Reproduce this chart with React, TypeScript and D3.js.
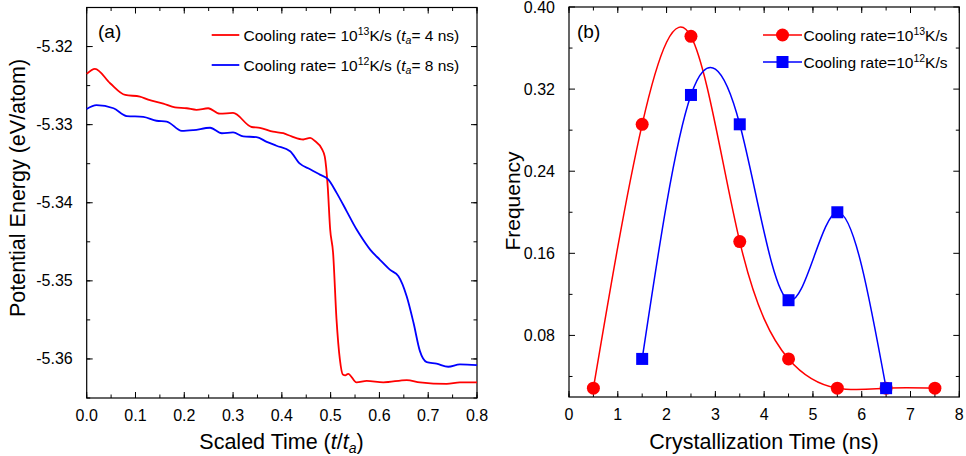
import React from "react";
import * as d3 from "d3";

// Panel (a): scaled time vs potential energy
const redT = [0, 0.017, 0.048, 0.079, 0.109, 0.126, 0.157, 0.181, 0.205, 0.225, 0.249, 0.273, 0.3, 0.338, 0.355, 0.382, 0.403, 0.42, 0.444, 0.458, 0.468, 0.482, 0.488, 0.494, 0.499, 0.505, 0.512, 0.519, 0.525, 0.53, 0.536, 0.553, 0.574, 0.608, 0.656, 0.683, 0.738, 0.765, 0.8];
const redE = [-5.3235, -5.32285, -5.3247, -5.3262, -5.3264, -5.3268, -5.3273, -5.3278, -5.3279, -5.3281, -5.3279, -5.3286, -5.3285, -5.3303, -5.3304, -5.3309, -5.3311, -5.3315, -5.3319, -5.3317, -5.3321, -5.3331, -5.3341, -5.3379, -5.3434, -5.3464, -5.3549, -5.3601, -5.362, -5.3621, -5.3619, -5.363, -5.3628, -5.363, -5.3627, -5.363, -5.3632, -5.363, -5.363];
const blueT = [0, 0.02, 0.055, 0.082, 0.116, 0.143, 0.164, 0.195, 0.219, 0.253, 0.277, 0.3, 0.321, 0.348, 0.369, 0.389, 0.417, 0.437, 0.458, 0.478, 0.495, 0.512, 0.533, 0.553, 0.56, 0.581, 0.601, 0.622, 0.639, 0.656, 0.67, 0.683, 0.697, 0.717, 0.741, 0.765, 0.8];
const blueE = [-5.328, -5.3275, -5.3279, -5.3289, -5.329, -5.3295, -5.3296, -5.3308, -5.3307, -5.3304, -5.3311, -5.331, -5.3315, -5.3316, -5.3322, -5.3327, -5.3334, -5.335, -5.3357, -5.3364, -5.337, -5.3387, -5.3411, -5.3434, -5.3441, -5.346, -5.3473, -5.3486, -5.3494, -5.352, -5.3554, -5.359, -5.3604, -5.3606, -5.361, -5.3607, -5.3608];
const aXTicks = [0, 0.1, 0.2, 0.3, 0.4, 0.5, 0.6, 0.7, 0.8];
const aYTicks = [-5.32, -5.33, -5.34, -5.35, -5.36];

// Panel (b): crystallization time histogram
const redTimes = [0.5, 1.5, 2.5, 3.5, 4.5, 5.5, 6.5, 7.5];
const redFreq = [0.0286, 0.2857, 0.3714, 0.1714, 0.0571, 0.0286, 0.0286, 0.0286];
const blueTimes = [1.5, 2.5, 3.5, 4.5, 5.5, 6.5];
const blueFreq = [0.0571, 0.3143, 0.2857, 0.1143, 0.2, 0.0286];
const bXTicks = [0, 1, 2, 3, 4, 5, 6, 7, 8];
const bYTicks = [0.08, 0.16, 0.24, 0.32, 0.4];

const RED = "#ff0000";
const BLUE = "#0000ff";
const FONT = "'Liberation Sans', Arial, Helvetica, sans-serif";

function Frame({ x, y, minorX, minorY, xFmt, yFmt, majX, majY }: any) {
  const [x0, x1] = x.range();
  const [y0, y1] = y.range(); // y0 bottom, y1 top
  const els: any[] = [];
  const L = 6, l = 3.5;
  minorX.forEach((v: number, i: number) => {
    const px = x(v);
    els.push(<line key={"mx" + i} x1={px} x2={px} y1={y0} y2={y0 - l} stroke="#000" />);
    els.push(<line key={"mxt" + i} x1={px} x2={px} y1={y1} y2={y1 + l} stroke="#000" />);
  });
  minorY.forEach((v: number, i: number) => {
    const py = y(v);
    els.push(<line key={"my" + i} x1={x0} x2={x0 + l} y1={py} y2={py} stroke="#000" />);
    els.push(<line key={"myr" + i} x1={x1} x2={x1 - l} y1={py} y2={py} stroke="#000" />);
  });
  majX.forEach((v: number, i: number) => {
    const px = x(v);
    els.push(<line key={"Mx" + i} x1={px} x2={px} y1={y0} y2={y0 - L} stroke="#000" />);
    els.push(<line key={"Mxt" + i} x1={px} x2={px} y1={y1} y2={y1 + L} stroke="#000" />);
    els.push(<text key={"Tx" + i} x={px} y={y0 + 23} textAnchor="middle" fontSize={16} fontFamily={FONT}>{xFmt(v)}</text>);
  });
  majY.forEach((v: number, i: number) => {
    const py = y(v);
    els.push(<line key={"My" + i} x1={x0} x2={x0 + L} y1={py} y2={py} stroke="#000" />);
    els.push(<line key={"Myr" + i} x1={x1} x2={x1 - L} y1={py} y2={py} stroke="#000" />);
    els.push(<text key={"Ty" + i} x={x0 - 14} y={py + 5.5} textAnchor="end" fontSize={16} fontFamily={FONT}>{yFmt(v)}</text>);
  });
  return (
    <g>
      <rect x={x0} y={y1} width={x1 - x0} height={y0 - y1} fill="none" stroke="#000" strokeWidth={1.2} />
      {els}
    </g>
  );
}

export default function App() {
  // Panel (a)
  const ax = d3.scaleLinear().domain([0, 0.8]).range([86.7, 477]);
  const ay = d3.scaleLinear().domain([-5.365, -5.315]).range([398, 7.5]);
  const aLine = d3.line<[number, number]>().x(d => ax(d[0])).y(d => ay(d[1])).curve(d3.curveMonotoneX);
  const redPts = redT.map((t, i) => [t, redE[i]] as [number, number]);
  const bluePts = blueT.map((t, i) => [t, blueE[i]] as [number, number]);
  const aMinorX = d3.range(0, 17).map(i => i * 0.05);
  const aMinorY = d3.range(0, 11).map(i => -5.365 + i * 0.005);

  // Panel (b)
  const bx = d3.scaleLinear().domain([0, 8]).range([569, 959.3]);
  const by = d3.scaleLinear().domain([0.02, 0.4]).range([397, 7]);
  const bLine = d3.line<[number, number]>().x(d => bx(d[0])).y(d => by(d[1])).curve(d3.curveNatural);
  const rP = redTimes.map((t, i) => [t, redFreq[i]] as [number, number]);
  const bP = blueTimes.map((t, i) => [t, blueFreq[i]] as [number, number]);
  const bMinorX = d3.range(0, 17).map(i => i * 0.5);
  const bMinorY = [0.04, 0.12, 0.2, 0.28, 0.36];

  const sq = 12;
  const LF = 15.5, SF = 10.5;
  return (
    <svg width={966} height={456} style={{ position: "absolute", left: 0, top: 0, background: "#fff" }} fontFamily={FONT}>
      <rect width={966} height={456} fill="#fff" />
      {/* Panel a */}
      <Frame x={ax} y={ay} minorX={aMinorX} minorY={aMinorY} majX={aXTicks} majY={aYTicks}
        xFmt={(v: number) => v.toFixed(1)} yFmt={(v: number) => v.toFixed(2)} />
      <path d={aLine(redPts) || ""} fill="none" stroke={RED} strokeWidth={1.8} />
      <path d={aLine(bluePts) || ""} fill="none" stroke={BLUE} strokeWidth={1.8} />
      <text x={98} y={38} fontSize={19}>(a)</text>
      <line x1={211.7} x2={239.3} y1={35} y2={35} stroke={RED} strokeWidth={1.8} />
      <line x1={211.7} x2={239.3} y1={65} y2={65} stroke={BLUE} strokeWidth={1.8} />
      <text x={243.5} y={40.5} fontSize={LF}>Cooling rate= 10<tspan fontSize={SF} dy={-6}>13</tspan><tspan dy={6}>K/s (</tspan><tspan fontStyle="italic">t</tspan><tspan fontSize={SF} dy={3.5} fontStyle="italic">a</tspan><tspan dy={-3.5}>= 4 ns)</tspan></text>
      <text x={243.5} y={70.5} fontSize={LF}>Cooling rate= 10<tspan fontSize={SF} dy={-6}>12</tspan><tspan dy={6}>K/s (</tspan><tspan fontStyle="italic">t</tspan><tspan fontSize={SF} dy={3.5} fontStyle="italic">a</tspan><tspan dy={-3.5}>= 8 ns)</tspan></text>
      <text transform="translate(25,188) rotate(-90)" textAnchor="middle" fontSize={21.5}>Potential Energy (eV/atom)</text>
      <text x={281.5} y={448.5} textAnchor="middle" fontSize={21.5}>Scaled Time (<tspan fontStyle="italic">t</tspan>/<tspan fontStyle="italic">t</tspan><tspan fontSize={14} dy={4} fontStyle="italic">a</tspan><tspan dy={-4}>)</tspan></text>

      {/* Panel b */}
      <Frame x={bx} y={by} minorX={bMinorX} minorY={bMinorY} majX={bXTicks} majY={bYTicks}
        xFmt={(v: number) => String(v)} yFmt={(v: number) => v.toFixed(2)} />
      <path d={bLine(rP) || ""} fill="none" stroke={RED} strokeWidth={1.5} />
      <path d={bLine(bP) || ""} fill="none" stroke={BLUE} strokeWidth={1.5} />
      {rP.map((d, i) => <circle key={"rc" + i} cx={bx(d[0])} cy={by(d[1])} r={6.5} fill={RED} />)}
      {bP.map((d, i) => <rect key={"bs" + i} x={bx(d[0]) - sq / 2} y={by(d[1]) - sq / 2} width={sq} height={sq} fill={BLUE} />)}
      <text x={577} y={38} fontSize={19}>(b)</text>
      <line x1={763} x2={802} y1={35} y2={35} stroke={RED} strokeWidth={1.5} />
      <circle cx={782.5} cy={35} r={6.5} fill={RED} />
      <line x1={763} x2={802} y1={62} y2={62} stroke={BLUE} strokeWidth={1.5} />
      <rect x={782.5 - sq / 2} y={62 - sq / 2} width={sq} height={sq} fill={BLUE} />
      <text x={803.5} y={40.5} fontSize={LF}>Cooling rate=10<tspan fontSize={SF} dy={-6}>13</tspan><tspan dy={6}>K/s</tspan></text>
      <text x={803.5} y={67.5} fontSize={LF}>Cooling rate=10<tspan fontSize={SF} dy={-6}>12</tspan><tspan dy={6}>K/s</tspan></text>
      <text transform="translate(519.5,201) rotate(-90)" textAnchor="middle" fontSize={21}>Frequency</text>
      <text x={764} y={448.5} textAnchor="middle" fontSize={21.5}>Crystallization Time (ns)</text>
    </svg>
  );
}
